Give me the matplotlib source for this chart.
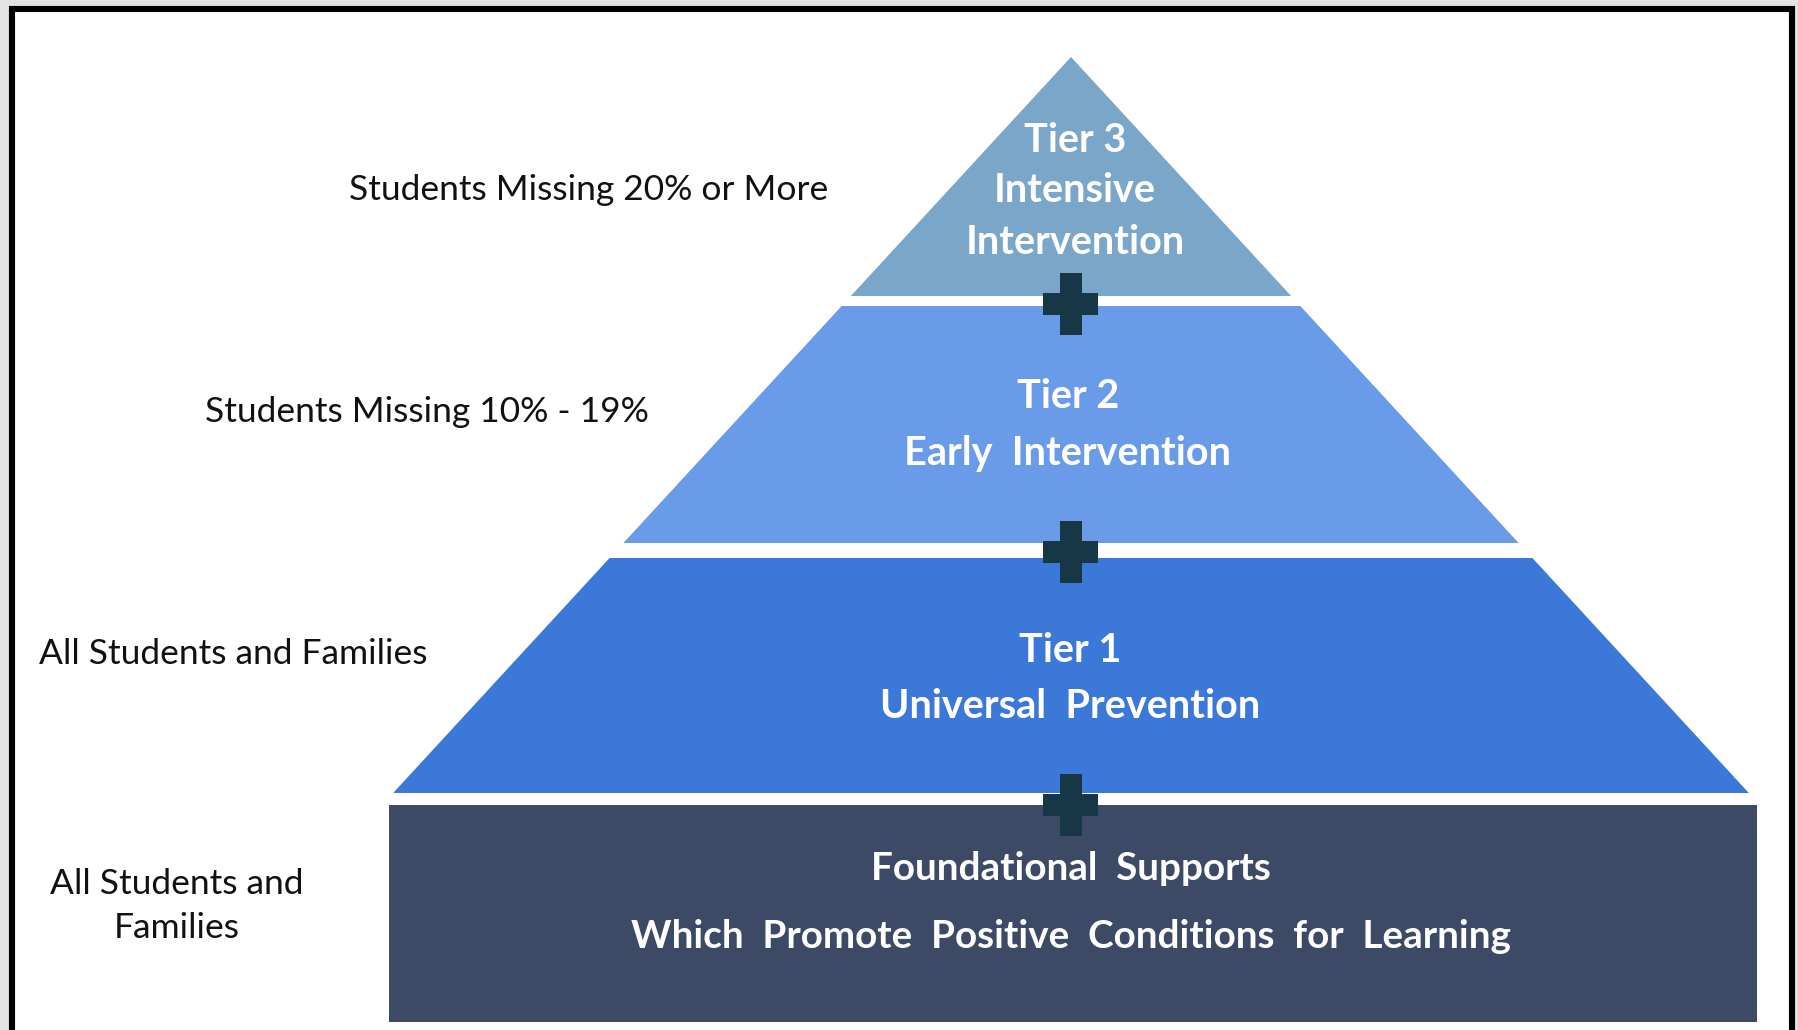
import matplotlib.pyplot as plt
from matplotlib.patches import Polygon, Rectangle
import numpy as np

#----------------  Diagram text  --------------------

tier_lines = [['Tier 3', 'Intensive', 'Intervention'],
              ['Tier 2', 'Early  Intervention'],
              ['Tier 1', 'Universal  Prevention']]
found_lines = ['Foundational  Supports',
               'Which  Promote  Positive  Conditions  for  Learning']
side_labels = ['Students Missing 20% or More',
               'Students Missing 10% - 19%',
               'All Students and Families',
               'All Students and\nFamilies']

tier_colors = ['#7aa6c9', '#6a9be8', '#3c78d8']
found_color = '#3d4a66'
plus_color = '#173646'

#----------------  Layout (pixels of the 1799x1030 picture)  --------------------

W, H = 1799, 1030
apex_x, apex_y = 1071, 57
slope = 0.921                      # half width grows this much per pixel down
bands = [(57, 296), (306, 543), (558, 793)]
found_box = (389, 805, 1757, 1022)  # x0, y0, x1, y1
plus_y = [304, 552, 805]

# text anchors
tier_text_x = [1075, 1068, 1070]
tier_text_y = [[140, 191, 243], [396, 454], [650, 706]]
found_text_y = [869, 937]
side_xy = [(589, 190), (427, 412), (233, 654), (177, 906)]

fig = plt.figure(figsize=(W / 100, H / 100), dpi=100, facecolor='#e3e3e3')
ax = fig.add_axes([0, 0, 1, 1])
ax.set_xlim(0, W)
ax.set_ylim(H, 0)
ax.set_axis_off()

# white card with black frame
ax.add_patch(Rectangle((12, 9), 1780, 1040, facecolor='white',
                       edgecolor='black', linewidth=4.4, zorder=1))

# pyramid bands
for (y0, y1), col in zip(bands, tier_colors):
    h0 = slope * (y0 - apex_y)
    h1 = slope * (y1 - apex_y)
    pts = [(apex_x - h0, y0), (apex_x + h0, y0),
           (apex_x + h1, y1), (apex_x - h1, y1)]
    ax.add_patch(Polygon(pts, closed=True, facecolor=col, edgecolor='none', zorder=2))

# foundation block
x0, y0, x1, y1 = found_box
ax.add_patch(Rectangle((x0, y0), x1 - x0, y1 - y0, facecolor=found_color,
                       edgecolor='none', zorder=2))

# plus signs between the layers
pw, ph, bar = 55, 62, 22
for py in plus_y:
    ax.add_patch(Rectangle((apex_x - bar / 2, py - ph / 2), bar, ph,
                           facecolor=plus_color, edgecolor='none', zorder=3))
    ax.add_patch(Rectangle((apex_x - pw / 2, py - bar / 2), pw, bar,
                           facecolor=plus_color, edgecolor='none', zorder=3))

# tier text
for lines, tx, ys in zip(tier_lines, tier_text_x, tier_text_y):
    for s, ty in zip(lines, ys):
        ax.text(tx, ty, s, color='white', fontsize=28.5, fontweight='bold',
                family='Lato', ha='center', va='center', zorder=4)

for s, ty in zip(found_lines, found_text_y):
    ax.text(apex_x, ty, s, color='white', fontsize=27.8, fontweight='bold',
            family='Lato', ha='center', va='center', zorder=4)

# labels on the left
for s, (sx, sy) in zip(side_labels, side_xy):
    ax.text(sx, sy, s, color='#111111', fontsize=25.5, family='Lato',
            ha='center', va='center', linespacing=1.5, zorder=4)

fig.savefig('out.png', dpi=100, facecolor=fig.get_facecolor())
